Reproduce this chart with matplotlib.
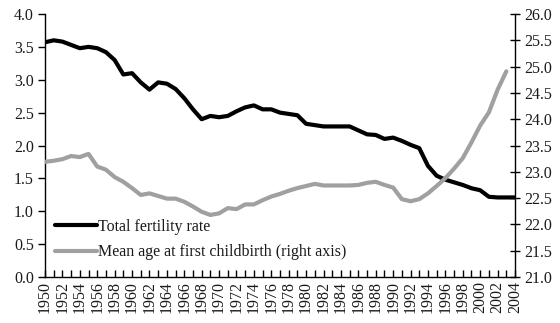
import matplotlib
matplotlib.use("Agg")
import matplotlib.pyplot as plt

years = list(range(1950, 2005))

tfr = [3.57, 3.60, 3.58, 3.53, 3.48, 3.50, 3.48, 3.42, 3.30, 3.08,
       3.10, 2.96, 2.85, 2.96, 2.94, 2.86, 2.72, 2.55, 2.40, 2.45,
       2.43, 2.45, 2.52, 2.58, 2.61, 2.55, 2.55, 2.50, 2.48, 2.46,
       2.33, 2.31, 2.29, 2.29, 2.29, 2.29, 2.23, 2.17, 2.16, 2.10,
       2.12, 2.07, 2.01, 1.96, 1.69, 1.54, 1.48, 1.44, 1.40, 1.35,
       1.32, 1.22, 1.21, 1.21, 1.21]

age_years = list(range(1950, 2004))
mean_age = [23.19, 23.21, 23.24, 23.30, 23.28, 23.34, 23.10, 23.04, 22.90, 22.81,
            22.69, 22.56, 22.59, 22.54, 22.49, 22.49, 22.43, 22.34, 22.24, 22.18,
            22.21, 22.31, 22.29, 22.38, 22.38, 22.46, 22.53, 22.58, 22.64, 22.69,
            22.73, 22.77, 22.74, 22.74, 22.74, 22.74, 22.75, 22.79, 22.81, 22.75,
            22.70, 22.48, 22.44, 22.48, 22.59, 22.73, 22.88, 23.06, 23.26, 23.56,
            23.88, 24.13, 24.56, 24.91]

left_ticks = [0.0, 0.5, 1.0, 1.5, 2.0, 2.5, 3.0, 3.5, 4.0]
right_ticks = [21.0, 21.5, 22.0, 22.5, 23.0, 23.5, 24.0, 24.5, 25.0, 25.5, 26.0]

plt.rcParams['font.family'] = ['Liberation Serif', 'DejaVu Serif']
fs = 11.5
txt = '#1a1a1a'

fig = plt.figure(figsize=(5.6, 3.23), dpi=100)
ax1 = fig.add_axes([45 / 560, 1 - 277 / 323, 470 / 560, 263 / 323])
ax2 = ax1.twinx()

l1, = ax1.plot(years, tfr, color='black', lw=3.0, solid_capstyle='round',
               solid_joinstyle='round', label='Total fertility rate')
l2, = ax2.plot(age_years, mean_age, color='#a0a0a0', lw=3.0, solid_capstyle='round',
               solid_joinstyle='round', label='Mean age at first childbirth (right axis)')

ax1.set_xlim(1950, 2004)
ax1.set_ylim(0, 4)
ax2.set_ylim(21, 26)

ax1.set_yticks(left_ticks)
ax1.set_yticklabels([f"{v:.1f}" for v in left_ticks], fontsize=fs, color=txt)
ax2.set_yticks(right_ticks)
ax2.set_yticklabels([f"{v:.1f}" for v in right_ticks], fontsize=fs, color=txt)

ax1.set_xticks(years)
ax1.set_xticklabels([str(y) if (y - 1950) % 2 == 0 else '' for y in years],
                    rotation=90, fontsize=fs, color=txt)

ax1.spines['top'].set_visible(False)
ax2.spines['top'].set_visible(False)
ax2.spines['left'].set_visible(False)
ax2.spines['bottom'].set_visible(False)
ax1.spines['right'].set_visible(False)
for sp in [ax1.spines['left'], ax1.spines['bottom'], ax2.spines['right']]:
    sp.set_linewidth(1.0)
    sp.set_color('black')

ax1.tick_params(axis='y', direction='out', length=5, width=1, pad=3)
ax1.tick_params(axis='x', direction='in', length=5, width=1, pad=3)
ax2.tick_params(axis='y', direction='inout', length=7, width=1, pad=3)

leg = ax2.legend(handles=[l1, l2], loc='upper left', bbox_to_anchor=(0.022, 0.222),
                 frameon=False, fontsize=fs, handlelength=2.6, handletextpad=0.1,
                 labelspacing=0.6, borderaxespad=0, borderpad=0)
for t in leg.get_texts():
    t.set_color(txt)

fig.savefig('out.png', dpi=100)
